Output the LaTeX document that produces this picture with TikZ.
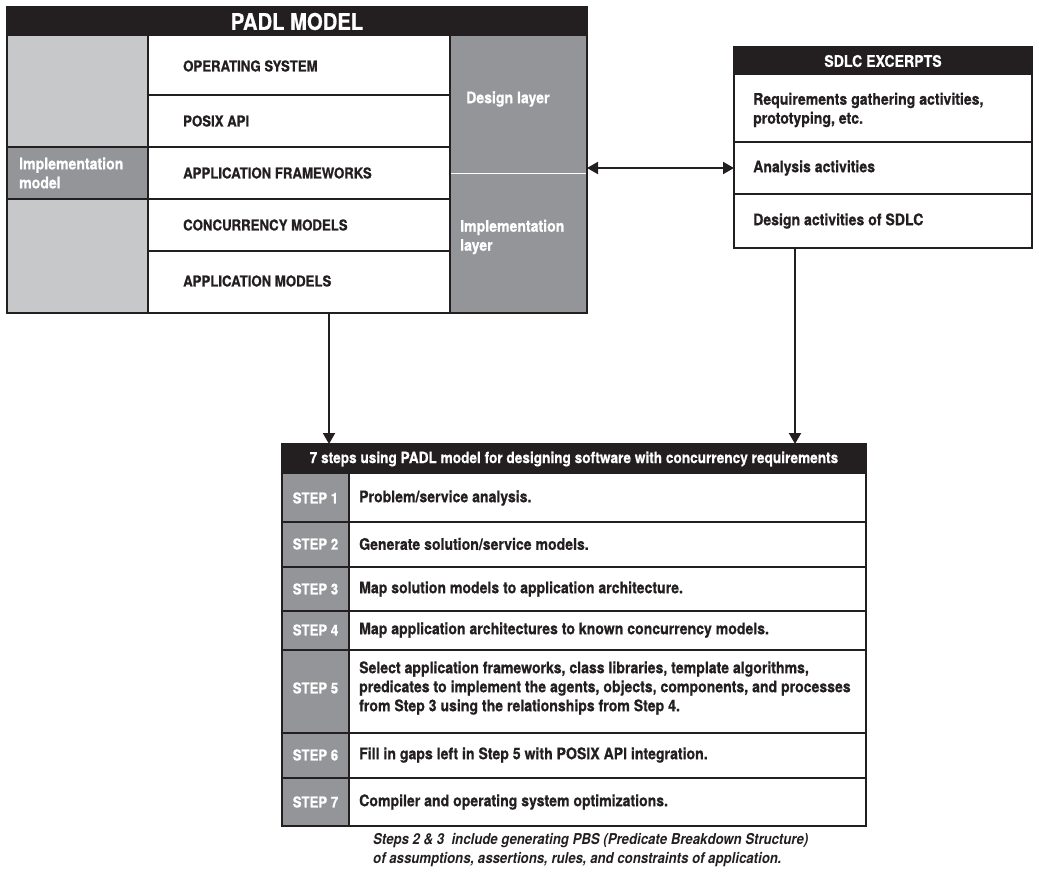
\documentclass[tikz,border=0pt]{standalone}
\usepackage{fontspec}
\setmainfont{TeX Gyre Heros}[FakeStretch=0.88,BoldFeatures={FakeBold=0.6}]
\usetikzlibrary{arrows.meta}
\definecolor{ink}{HTML}{231F20}
\definecolor{pale}{HTML}{C7C8CA}
\definecolor{mid}{HTML}{939598}

\begin{document}
\begin{tikzpicture}[x=1pt,y=-1pt,
  frame/.style={draw=ink,line width=1.3pt,inner sep=0pt,outer sep=0pt,anchor=north west},
  bar/.style={fill=ink,text=white,inner sep=0pt,outer sep=0pt,anchor=north west},
  txt/.style={anchor=west,inner sep=0pt,align=left,text=ink,font=\bfseries\fontsize{16}{19}\selectfont},
  captxt/.style={txt,font=\bfseries\fontsize{15}{18}\selectfont},
  wtxt/.style={txt,text=white},
  steplbl/.style={captxt,text=white,anchor=center},
  sep/.style={draw=ink,line width=1.1pt},
  link/.style={draw=ink,line width=2pt,-{Triangle[length=11pt,width=12pt]}},
  dbl/.style={link,{Triangle[length=11pt,width=12pt]}-{Triangle[length=11pt,width=12pt]}}]
\useasboundingbox (0,0) rectangle (1039,871);

% PADL model
\fill[pale] (7,36) rectangle (148,313);
\fill[mid] (7,147) rectangle (148,199);
\fill[mid] (450,36) rectangle (587,313);
\draw[white,line width=1pt] (450,173) -- (587,173);
\draw[sep] (148,36) -- (148,313);
\draw[sep] (450,36) -- (450,313);
\draw[sep] (148,95) -- (450,95);
\draw[sep] (7,147) -- (450,147);
\draw[sep] (7,199) -- (450,199);
\draw[sep] (148,251) -- (450,251);
\node[bar,minimum width=580pt,minimum height=29pt,font=\bfseries\fontsize{23}{24}\selectfont] (padltitle) at (7,7) {PADL MODEL};
\node[frame,minimum width=580pt,minimum height=306pt] (padl) at (7,7) {};
\node[wtxt] (implmodel) at (19,173) {Implementation\\model};
\node[captxt] (os) at (183,66) {OPERATING SYSTEM};
\node[captxt] (posix) at (183,121) {POSIX API};
\node[captxt] (appfw) at (183,173) {APPLICATION FRAMEWORKS};
\node[captxt] (conc) at (183,225) {CONCURRENCY MODELS};
\node[captxt] (appmod) at (183,281) {APPLICATION MODELS};
\node[wtxt] (design) at (466,99) {Design layer};
\node[wtxt] (impllayer) at (460,237) {Implementation\\layer};

% SDLC excerpts
\draw[sep] (734,142) -- (1032,142);
\draw[sep] (734,194) -- (1032,194);
\node[bar,minimum width=298pt,minimum height=28pt,font=\bfseries\fontsize{16}{18}\selectfont] (sdlctitle) at (734,47) {SDLC EXCERPTS};
\node[frame,minimum width=298pt,minimum height=201pt] (sdlc) at (734,47) {};
\node[txt] (req) at (753,110) {Requirements gathering activities,\\prototyping, etc.};
\node[txt] (ana) at (753,168) {Analysis activities};
\node[txt] (des) at (753,221) {Design activities of SDLC};

% 7 steps
\fill[mid] (282,474) rectangle (349,826);
\draw[sep] (349,474) -- (349,826);
\draw[sep] (282,522) -- (866,522);
\draw[sep] (282,567) -- (866,567);
\draw[sep] (282,611) -- (866,611);
\draw[sep] (282,650) -- (866,650);
\draw[sep] (282,733) -- (866,733);
\draw[sep] (282,778) -- (866,778);
\node[bar,minimum width=584pt,minimum height=30pt,font=\bfseries\fontsize{15.5}{18}\selectfont] (stepstitle) at (282,444) {7 steps using PADL model for designing software with concurrency requirements};
\node[frame,minimum width=584pt,minimum height=382pt] (steps) at (282,444) {};
\node[steplbl] (s1) at (315.5,498) {STEP 1};
\node[steplbl] (s2) at (315.5,544) {STEP 2};
\node[steplbl] (s3) at (315.5,589) {STEP 3};
\node[steplbl] (s4) at (315.5,630) {STEP 4};
\node[steplbl] (s5) at (315.5,688) {STEP 5};
\node[steplbl] (s6) at (315.5,755) {STEP 6};
\node[steplbl] (s7) at (315.5,802) {STEP 7};
\node[txt] (t1) at (359,498) {Problem/service analysis.};
\node[txt] (t2) at (359,544) {Generate solution/service models.};
\node[txt] (t3) at (359,589) {Map solution models to application architecture.};
\node[txt] (t4) at (359,630) {Map application architectures to known concurrency models.};
\node[txt] (t5) at (359,688) {Select application frameworks, class libraries, template algorithms,\\predicates to implement the agents, objects, components, and processes\\from Step 3 using the relationships from Step 4.};
\node[txt] (t6) at (359,755) {Fill in gaps left in Step 5 with POSIX API integration.};
\node[txt] (t7) at (359,802) {Compiler and operating system optimizations.};
\node[txt,font=\bfseries\itshape\fontsize{15}{19}\selectfont] (note) at (373,850) {Steps 2 \& 3~ include generating PBS (Predicate Breakdown Structure)\\of assumptions, assertions, rules, and constraints of application.};

% connectors
\draw[dbl] (padl.east |- ana.west) -- (sdlc.west |- ana.west);
\draw[link] ([xshift=32pt]padl.south) -- ([xshift=32pt]padl.south |- steps.north);
\draw[link] ([xshift=-88pt]sdlc.south) -- ([xshift=-88pt]sdlc.south |- steps.north);
\end{tikzpicture}
\end{document}
